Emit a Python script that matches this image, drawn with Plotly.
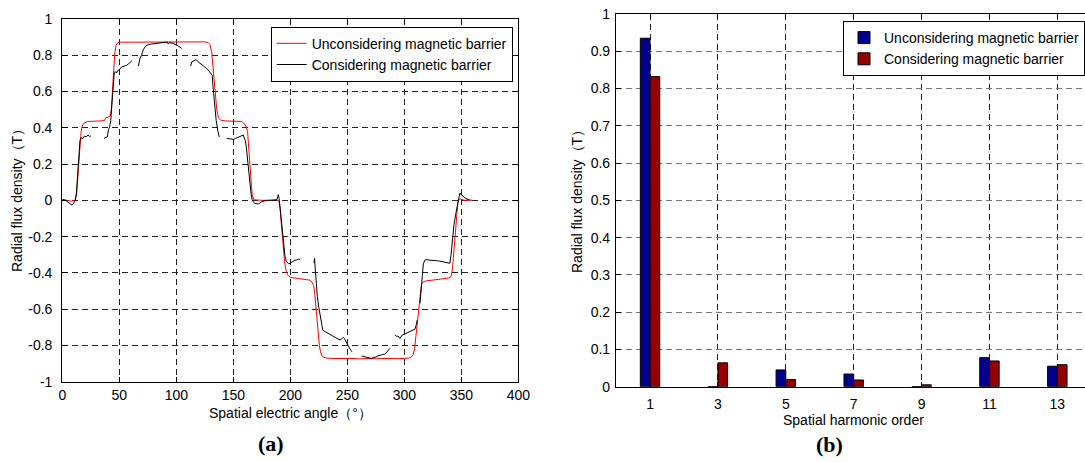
import plotly.graph_objects as go

# ---------------- (a) radial flux density waveform ----------------
angle_uncons = [0, 4, 8, 11, 12.5, 13.5, 14.5, 15.5, 16.5, 17.5, 19, 22, 26, 30, 34, 37, 38, 40, 42, 43,
                44, 45, 46, 47, 48, 50, 55, 60, 65, 70, 75, 80, 85, 90, 95, 100, 105, 110, 115, 120,
                125, 128, 129.5, 131, 132.5, 134, 135.5, 137, 139, 143, 148, 153, 157, 159, 161, 162.5,
                163.5, 164.5, 165.5, 166.5, 168, 172, 176, 180, 184, 188, 190, 191, 192, 193, 194, 195,
                196, 197.5, 200, 205, 210, 214, 217, 219, 220.5, 221.5, 222.5, 223.5, 224.5, 225.5,
                226.5, 227.5, 229, 232, 240, 245, 250, 255, 260, 265, 270, 275, 280, 285, 290, 295, 300,
                304, 306, 307.5, 309, 310, 311, 312, 313, 314, 315, 316, 318, 320, 325, 330, 335, 339,
                341, 342, 343, 344, 345, 346, 347, 348.5, 350, 353, 356, 360]
flux_uncons = [0.005, 0.0, -0.005, 0.0, 0.03, 0.12, 0.22, 0.31, 0.38, 0.41, 0.425, 0.435, 0.435, 0.437,
               0.438, 0.44, 0.455, 0.458, 0.465, 0.5, 0.6, 0.72, 0.81, 0.85, 0.865, 0.872, 0.872, 0.875,
               0.873, 0.874, 0.873, 0.876, 0.874, 0.875, 0.874, 0.873, 0.875, 0.874, 0.875, 0.873,
               0.874, 0.87, 0.86, 0.82, 0.72, 0.6, 0.5, 0.455, 0.442, 0.438, 0.437, 0.437, 0.435,
               0.428, 0.41, 0.38, 0.3, 0.2, 0.1, 0.03, 0.003, 0.0, 0.0, 0.0, 0.0, 0.003, -0.005, -0.04,
               -0.12, -0.2, -0.28, -0.34, -0.38, -0.41, -0.425, -0.43, -0.432, -0.435, -0.44, -0.45,
               -0.47, -0.52, -0.6, -0.68, -0.75, -0.8, -0.835, -0.855, -0.865, -0.87, -0.872, -0.871,
               -0.873, -0.872, -0.874, -0.872, -0.873, -0.871, -0.872, -0.874, -0.872, -0.873, -0.872,
               -0.87, -0.865, -0.855, -0.82, -0.76, -0.69, -0.62, -0.55, -0.5, -0.465, -0.452, -0.447,
               -0.443, -0.44, -0.437, -0.432, -0.428, -0.42, -0.39, -0.32, -0.23, -0.14, -0.06, -0.01,
               0.008, 0.005, 0.0, 0.002, 0.0]

angle_cons = [0, 3, 5, 7, 8.5, 10, 11, 11.5, 12.5, 13.5, 14.5, 15.5, 16.5, 18, 19.5, 21, 22.5, 24, 25, None,
              36.6, 38, 39.5, 40.5, 41.5, 42.5, 43.3, 44, 44.8, 45.6, 46.5, 47.5, 48.5, 50, 52, 54, 56.5,
              58.5, 60, 61, None,
              66.7, 67, 68.2, 69.5, 71, 73, 75, 78, 81, 84, 87, 90, 92, 93, 94, 97, 100, 102, 104.7, None,
              112.6, 113.5, 115.5, 117.5, 119, 121, 123, 125, 127, 129, 130.5, 131.5, 132.3, 133.5, 135,
              136.5, 137.7, None,
              144.2, 147, 150, 152, 154.4, 156.5, 158.8, 159.5, 160.5, 161.5, 162.5, 163.5, 164.5, 165.5,
              166.5, 167.5, 169, 171.9, 174.8, 177, 179.2, 183, 186, 188, 189, 189.5, 190.2, 191, 192, 193,
              194, 195.4, 196.5, 197.4, 198.5, 199.7, 201, 202.6, 204, 205.6, 207, 208.5, None,
              220.8, 221.3, 221.8, 222.5, 223.7, 225, 226, 227.5, 228.5, 230, 232, 234, 236, 237.7, 240,
              242, 243.6, 245, 246.5, 247.5, 248.5, 249.5, 251, 252.4, 254, None,
              262.6, 265, 267, 269, 271.4, 273, 274.3, 276, 278.7, 281, 283, 285, 287.5, None,
              291.8, 293.3, 294.5, 296.2, 297.7, 300, 302, 305, 307.5, 309.4, 310.3, 311.4, None,
              313.8, 314.8, 315.8, 316.7, 318, 320, 322.5, 325, 328.4, 331, 334.2, 337, 339, 340, 341, 342,
              343.5, 345, 346.5, 347.4, 348.3, 348.9, 350, 351.8, 353.5, 356, 358]
flux_cons = [0.005, 0.0, -0.01, -0.022, -0.026, -0.015, -0.005, 0.0, 0.05, 0.15, 0.25, 0.33, 0.345, 0.34,
             0.355, 0.35, 0.36, 0.352, 0.355, None,
             0.342, 0.345, 0.35, 0.39, 0.405, 0.44, 0.52, 0.6, 0.67, 0.705, 0.71, 0.702, 0.715, 0.72,
             0.735, 0.74, 0.745, 0.755, 0.765, 0.77, None,
             0.74, 0.755, 0.783, 0.8, 0.83, 0.85, 0.857, 0.862, 0.865, 0.868, 0.87, 0.875, 0.873, 0.862,
             0.87, 0.866, 0.858, 0.85, 0.838, None,
             0.74, 0.763, 0.77, 0.775, 0.765, 0.755, 0.75, 0.738, 0.725, 0.71, 0.695, 0.69, 0.62, 0.52,
             0.44, 0.38, 0.35, None,
             0.342, 0.338, 0.336, 0.342, 0.35, 0.355, 0.36, 0.345, 0.33, 0.29, 0.22, 0.15, 0.09, 0.04,
             0.005, -0.008, -0.017, -0.02, -0.008, -0.002, 0.0, 0.0, 0.0, 0.002, 0.02, 0.032, 0.01,
             -0.04, -0.12, -0.2, -0.26, -0.31, -0.335, -0.345, -0.35, -0.347, -0.342, -0.338, -0.33,
             -0.329, -0.324, -0.325, None,
             -0.345, -0.32, -0.37, -0.44, -0.53, -0.59, -0.625, -0.7, -0.715, -0.722, -0.73, -0.738,
             -0.745, -0.75, -0.758, -0.765, -0.77, -0.765, -0.755, -0.762, -0.775, -0.78, -0.8, -0.82,
             -0.835, None,
             -0.858, -0.862, -0.864, -0.867, -0.872, -0.865, -0.866, -0.86, -0.853, -0.85, -0.848,
             -0.835, -0.816, None,
             -0.742, -0.75, -0.748, -0.762, -0.745, -0.738, -0.734, -0.726, -0.718, -0.71, -0.69,
             -0.66, None,
             -0.568, -0.48, -0.4, -0.35, -0.33, -0.326, -0.33, -0.33, -0.333, -0.335, -0.338, -0.342,
             -0.345, -0.347, -0.3, -0.22, -0.14, -0.08, -0.02, 0.0, 0.025, 0.04, 0.03, 0.02, 0.012,
             0.005, 0.0]

angle_ticks = [0, 50, 100, 150, 200, 250, 300, 350, 400]
angle_labels = ["0", "50", "100", "150", "200", "250", "300", "350", "400"]
flux_ticks = [-1, -0.8, -0.6, -0.4, -0.2, 0, 0.2, 0.4, 0.6, 0.8, 1]
flux_labels = ["-1", "-0.8", "-0.6", "-0.4", "-0.2", "0", "0.2", "0.4", "0.6", "0.8", "1"]

# ---------------- (b) harmonic spectrum ----------------
harmonic_order = [1, 3, 5, 7, 9, 11, 13]
harm_uncons = [0.935, 0.0, 0.045, 0.034, 0.0, 0.078, 0.055]
harm_cons = [0.832, 0.064, 0.019, 0.018, 0.005, 0.069, 0.059]
order_labels = ["1", "3", "5", "7", "9", "11", "13"]
amp_ticks = [0, 0.1, 0.2, 0.3, 0.4, 0.5, 0.6, 0.7, 0.8, 0.9, 1]
amp_labels = ["0", "0.1", "0.2", "0.3", "0.4", "0.5", "0.6", "0.7", "0.8", "0.9", "1"]

W, H = 1085, 462
FONT = "Liberation Sans, Arial, sans-serif"
FS = 14

fig = go.Figure()
fig.add_trace(go.Scatter(x=angle_uncons, y=flux_uncons, mode="lines", name="Unconsidering magnetic barrier",
                         line=dict(color="#ff0000", width=1), xaxis="x", yaxis="y", legend="legend"))
fig.add_trace(go.Scatter(x=angle_cons, y=flux_cons, mode="lines", name="Considering magnetic barrier",
                         line=dict(color="#000000", width=1), connectgaps=False,
                         xaxis="x", yaxis="y", legend="legend"))
fig.add_trace(go.Bar(x=harmonic_order, y=harm_uncons, name="Unconsidering magnetic barrier",
                     marker=dict(color="#00008f", line=dict(color="#000000", width=1)),
                     xaxis="x2", yaxis="y2", legend="legend2"))
fig.add_trace(go.Bar(x=harmonic_order, y=harm_cons, name="Considering magnetic barrier",
                     marker=dict(color="#930000", line=dict(color="#000000", width=1)),
                     xaxis="x2", yaxis="y2", legend="legend2"))

axis_common = dict(showline=True, linecolor="#000000", linewidth=1.3, ticks="inside", ticklen=5,
                   tickcolor="#000000", tickwidth=1, showgrid=True, gridwidth=1, griddash="6px,4px",
                   zeroline=False, automargin=False,
                   tickfont=dict(family=FONT, size=FS, color="#000000"))

# left plot pixel box
lx0, lx1, ly0, ly1 = 62.3, 518.3, 19, 381.7
# right plot pixel box
rx0, rx1, ry0, ry1 = 616.1, 1085, 14, 386.7
px_per_order = 33.94

fig.update_layout(
    template="none",
    width=W, height=H, margin=dict(l=0, r=0, t=0, b=0, pad=0, autoexpand=False),
    paper_bgcolor="white", plot_bgcolor="white",
    barmode="group", bargap=0.714, bargroupgap=0.0,
    font=dict(family=FONT, size=FS, color="#000000"),
    xaxis=dict(domain=[lx0 / W, lx1 / W], range=[0, 400], anchor="y",
               tickvals=angle_ticks, ticktext=angle_labels, mirror="allticks",
               gridcolor="#222222", ticklabelstandoff=0, **axis_common),
    yaxis=dict(domain=[1 - ly1 / H, 1 - ly0 / H], range=[-1, 1], anchor="x",
               tickvals=flux_ticks, ticktext=flux_labels, mirror="allticks",
               gridcolor="#222222", ticklabelstandoff=6, **axis_common),
    xaxis2=dict(domain=[rx0 / W, 1.0], range=[0, (rx1 - rx0) / px_per_order], anchor="y2",
                tickvals=harmonic_order, ticktext=order_labels, mirror="allticks",
                gridcolor="#222222", ticklabelstandoff=4, **axis_common),
    yaxis2=dict(domain=[1 - ry1 / H, 1 - ry0 / H], range=[0, 1], anchor="x2",
                tickvals=amp_ticks, ticktext=amp_labels, mirror=False,
                gridcolor="#777777", ticklabelstandoff=2, **axis_common),
    legend=dict(x=512.7 / W, xanchor="right", y=1 - 26.7 / H, yanchor="top",
                bordercolor="#000000", borderwidth=1, bgcolor="white",
                font=dict(family=FONT, size=FS, color="#000000"), tracegroupgap=0),
    legend2=dict(x=1.0, xanchor="right", y=1 - 21 / H, yanchor="top",
                 bordercolor="#000000", borderwidth=1, bgcolor="white",
                 font=dict(family=FONT, size=FS, color="#000000"), tracegroupgap=0),
    showlegend=True,
)

ann = []
ann.append(dict(text="Spatial electric angle（°）", x=290 / W, y=1 - 413 / H, xref="paper", yref="paper",
                showarrow=False, font=dict(family=FONT, size=FS), xanchor="center", yanchor="middle"))
ann.append(dict(text="Radial flux density（T）", x=17 / W, y=1 - 197 / H, xref="paper", yref="paper",
                showarrow=False, textangle=-90, font=dict(family=FONT, size=FS),
                xanchor="center", yanchor="middle"))
ann.append(dict(text="Spatial harmonic order", x=853 / W, y=1 - 420 / H, xref="paper", yref="paper",
                showarrow=False, font=dict(family=FONT, size=FS), xanchor="center", yanchor="middle"))
ann.append(dict(text="Radial flux density（T）", x=577 / W, y=1 - 198 / H, xref="paper", yref="paper",
                showarrow=False, textangle=-90, font=dict(family=FONT, size=FS),
                xanchor="center", yanchor="middle"))
ann.append(dict(text="<b>(a)</b>", x=271 / W, y=1 - 443 / H, xref="paper", yref="paper",
                showarrow=False, font=dict(family="Liberation Serif, DejaVu Serif, serif", size=22),
                xanchor="center", yanchor="middle"))
ann.append(dict(text="<b>(b)</b>", x=829 / W, y=1 - 444 / H, xref="paper", yref="paper",
                showarrow=False, font=dict(family="Liberation Serif, DejaVu Serif, serif", size=22),
                xanchor="center", yanchor="middle"))
fig.update_layout(annotations=ann)

fig.write_html("out.html")
